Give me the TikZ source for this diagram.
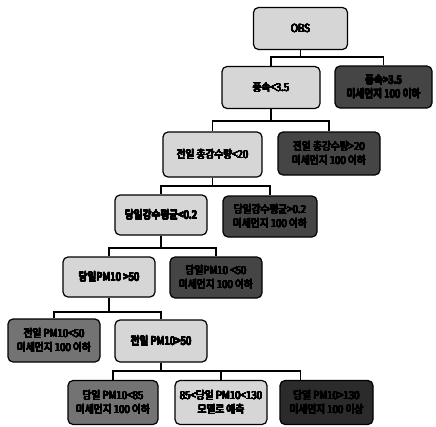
\documentclass[tikz,border=0pt]{standalone}
\usepackage{fontspec}
\usepackage{xcolor}
\usepackage{tikz}
\usepackage{contour}
\newfontfamily\krfont[FakeStretch=0.88]{Noto Sans CJK KR}
\contourlength{0.35pt}
\contournumber{16}
\newcommand\kb[1]{\contour{black}{#1}}

\definecolor{leafmid}{gray}{0.45}
\definecolor{leafdark}{gray}{0.27}
\definecolor{leafdarker}{gray}{0.17}
\definecolor{splitfill}{gray}{0.84}

\begin{document}
\begin{tikzpicture}[x=1pt, y=-1pt, line width=1.2pt,
    box/.style={draw=black, rounded corners=5pt, align=center, inner sep=1pt,
        font=\krfont\fontsize{11}{14}\selectfont, minimum height=42},
    split/.style={box, fill=splitfill},
    midleaf/.style={box, fill=leafmid},
    darkleaf/.style={box, fill=leafdark},
    branch/.style={to path={-- (\tikztostart |- 0,#1) -| (\tikztotarget)}}]
    \useasboundingbox (0,0) rectangle (436,426);

    \node[split, minimum width=94] (obs) at (300.5,28.5) {\kb{OBS}};
    \node[split, minimum width=98] (wind) at (271,87.5) {\kb{풍속<3.5}};
    \node[darkleaf, minimum width=97] (windhi) at (383.5,87) {\kb{풍속>3.5}\\\kb{미세먼지 100 이하}};
    \node[split, minimum width=99, minimum height=45] (rainprev) at (212.5,154.5) {\kb{전일 총강수량<20}};
    \node[darkleaf, minimum width=102, minimum height=43] (rainprevhi) at (329,153.5) {\kb{전일 총강수량>20}\\\kb{미세먼지 100 이하}};
    \node[split, minimum width=92, minimum height=40] (rainday) at (161,215) {\kb{당일강수평균<0.2}};
    \node[darkleaf, minimum width=94, minimum height=41] (raindayhi) at (270,216.5) {\kb{당일강수평균>0.2}\\\kb{미세먼지 100 이하}};
    \node[split, minimum width=92, minimum height=40] (pmday) at (109,277) {\kb{당일PM10 >50}};
    \node[darkleaf, minimum width=92, minimum height=41] (pmdaylo) at (216,277.5) {\kb{당일PM10 <50}\\\kb{미세먼지 100 이하}};
    \node[midleaf, minimum width=92, minimum height=43] (pmprevlo) at (54,340.5) {\kb{전일 PM10<50}\\\kb{미세먼지 100 이하}};
    \node[split, minimum width=92] (pmprev) at (161,341) {\kb{전일 PM10>50}};
    \node[midleaf, minimum width=90, minimum height=44] (todaylo) at (113,402.5) {\kb{당일 PM10<85}\\\kb{미세먼지 100 이하}};
    \node[split, minimum width=92, minimum height=44] (todaymid) at (221,402.5) {\kb{85<당일 PM10<130}\\\kb{모델로 예측}};
    \node[darkleaf, fill=leafdarker, minimum width=93, minimum height=44] (todayhi) at (326.5,402.5) {\kb{당일 PM10>130}\\\kb{미세먼지 100 이상}};

    % tree connectors
    \draw (obs) to[branch=57] (wind);
    \draw (obs) to[branch=57] (windhi);
    \draw (wind) to[branch=121] (rainprev);
    \draw (wind) to[branch=121] (rainprevhi);
    \draw (rainprev) to[branch=186] (rainday);
    \draw (rainprev) to[branch=186] (raindayhi);
    \draw (rainday) to[branch=248] (pmday);
    \draw (rainday) to[branch=248] (pmdaylo);
    \draw (pmday) to[branch=312] (pmprevlo);
    \draw (pmday) to[branch=312] (pmprev);
    \draw (pmprev) to[branch=371] (todaylo);
    \draw (pmprev) to[branch=371] (todaymid);
    \draw (pmprev) to[branch=371] ([xshift=-26pt]todayhi.north);
\end{tikzpicture}
\end{document}
